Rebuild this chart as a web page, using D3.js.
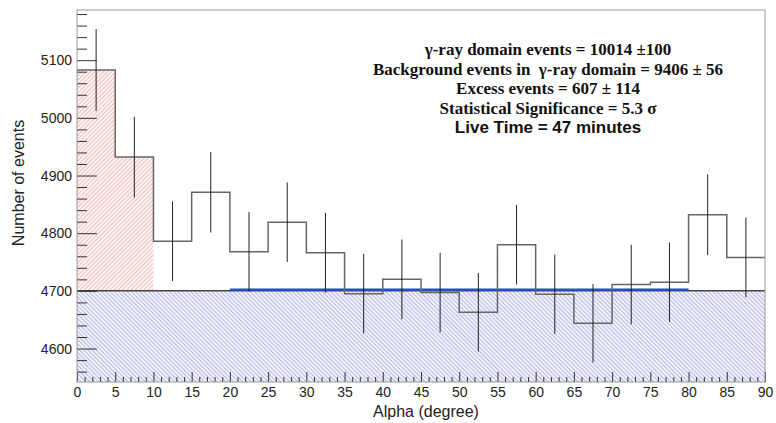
<!DOCTYPE html>
<html>
<head>
<meta charset="utf-8">
<script src="https://cdn.jsdelivr.net/npm/d3@7"></script>
<style>
  body { margin: 0; background: #fff; }
  svg { display: block; }
  .tick text { font-family: "Liberation Sans", Arial, sans-serif; font-size: 14px; fill: #222; }
</style>
</head>
<body>
<div id="chart"></div>
<script>
// alpha bins (degree), 5 deg wide
const binStarts = [0, 5, 10, 15, 20, 25, 30, 35, 40, 45, 50, 55, 60, 65, 70, 75, 80, 85];
const counts = [5083, 4932, 4786, 4871, 4768, 4819, 4766, 4695, 4720, 4697, 4663, 4780, 4694, 4644, 4711, 4715, 4832, 4758];
const errors = [71, 70, 69, 70, 69, 69, 69, 69, 69, 69, 68, 69, 69, 68, 69, 69, 70, 69];
const signalBins = [0, 1];           // bins in the gamma-ray domain
const background = 4700;
const fitRange = [20, 80];
const fitLevel = 4702;
const xTicks = [0, 5, 10, 15, 20, 25, 30, 35, 40, 45, 50, 55, 60, 65, 70, 75, 80, 85, 90];
const yTicks = [4600, 4700, 4800, 4900, 5000, 5100];
const infoLines = [
  "γ-ray domain events = 10014 ±100",
  "Background events in  γ-ray domain = 9406 ± 56",
  "Excess events = 607 ± 114",
  "Statistical Significance = 5.3 σ",
  "Live Time = 47 minutes"
];

const width = 776, height = 423;
const x = d3.scaleLinear().domain([0, 90]).range([77, 765]);
const y = d3.scaleLinear().domain([4542, 5187]).range([382, 10]);

const svg = d3.select('#chart')
  .append('svg')
  .attr('width', width)
  .attr('height', height);

const defs = svg.append('defs');
const hatch = (id, color, angle) => {
  const p = defs.append('pattern')
    .attr('id', id)
    .attr('patternUnits', 'userSpaceOnUse')
    .attr('width', 3)
    .attr('height', 10)
    .attr('patternTransform', 'rotate(' + angle + ')');
  p.append('line')
    .attr('x1', 0.75).attr('y1', 0)
    .attr('x2', 0.75).attr('y2', 10)
    .attr('stroke', color)
    .attr('stroke-width', 0.8);
};
hatch('hatch-red', '#e98f8f', 45);
hatch('hatch-blue', '#8585dc', -45);

// background hatch below 4700
svg.append('rect')
  .attr('x', x(0))
  .attr('y', y(background))
  .attr('width', x(90) - x(0))
  .attr('height', y.range()[0] - y(background))
  .attr('fill', 'url(#hatch-blue)');

// excess hatch in the signal bins
svg.selectAll('rect.excess')
  .data(signalBins)
  .enter().append('rect')
  .attr('class', 'excess')
  .attr('x', (i) => x(binStarts[i]))
  .attr('y', (i) => y(counts[i]))
  .attr('width', (i) => x(binStarts[i] + 5) - x(binStarts[i]))
  .attr('height', (i) => y(background) - y(counts[i]))
  .attr('fill', 'url(#hatch-red)');

// background level
svg.append('line')
  .attr('x1', x(0)).attr('x2', x(90))
  .attr('y1', y(background)).attr('y2', y(background))
  .attr('stroke', '#444')
  .attr('stroke-width', 1.5);

// fit line
svg.append('line')
  .attr('x1', x(fitRange[0])).attr('x2', x(fitRange[1]))
  .attr('y1', y(fitLevel)).attr('y2', y(fitLevel))
  .attr('stroke', '#1f4fc0')
  .attr('stroke-width', 2.5);

// histogram outline
const steps = binStarts.map((b, i) => [b, counts[i]]);
steps.push([90, counts[counts.length - 1]]);
svg.append('path')
  .datum(steps)
  .attr('fill', 'none')
  .attr('stroke', '#666')
  .attr('stroke-width', 1.5)
  .attr('d', d3.line()
    .x((d) => x(d[0]))
    .y((d) => y(d[1]))
    .curve(d3.curveStepAfter));

// error bars
svg.selectAll('line.err')
  .data(binStarts)
  .enter().append('line')
  .attr('class', 'err')
  .attr('x1', (b) => x(b + 2.5))
  .attr('x2', (b) => x(b + 2.5))
  .attr('y1', (b, i) => y(counts[i] - errors[i]))
  .attr('y2', (b, i) => y(counts[i] + errors[i]))
  .attr('stroke', '#222')
  .attr('stroke-width', 1);

// axes
const yMinor = d3.range(4560, 5181, 20).filter((v) => v % 100 !== 0);
svg.append('g')
  .attr('transform', 'translate(' + x(0) + ',0)')
  .call(d3.axisLeft(y).tickValues(yMinor).tickSize(-10).tickFormat(''))
  .call((g) => g.select('.domain').remove());
svg.append('g')
  .attr('transform', 'translate(' + x(0) + ',0)')
  .call(d3.axisLeft(y).tickValues(yTicks).tickSize(-20).tickPadding(5).tickFormat(d3.format('d')))
  .call((g) => g.select('.domain').remove());

const xMinor = d3.range(1, 90).filter((v) => v % 5 !== 0);
svg.append('g')
  .attr('transform', 'translate(0,' + y.range()[0] + ')')
  .call(d3.axisBottom(x).tickValues(xMinor).tickSize(-5).tickFormat(''))
  .call((g) => g.select('.domain').remove());
svg.append('g')
  .attr('transform', 'translate(0,' + y.range()[0] + ')')
  .call(d3.axisBottom(x).tickValues(xTicks).tickSize(-10).tickPadding(5).tickFormat(d3.format('d')))
  .call((g) => g.select('.domain').remove());

svg.selectAll('.tick line').attr('stroke', '#333');

// frame
svg.append('rect')
  .attr('x', x(0)).attr('y', y.range()[1])
  .attr('width', x(90) - x(0))
  .attr('height', y.range()[0] - y.range()[1])
  .attr('fill', 'none')
  .attr('stroke', '#999')
  .attr('stroke-width', 1);

// axis titles
svg.append('text')
  .attr('x', (x(0) + x(90)) / 2 + 5)
  .attr('y', 417)
  .attr('text-anchor', 'middle')
  .attr('font-family', '"Liberation Sans", Arial, sans-serif')
  .attr('font-size', 16)
  .attr('fill', '#222')
  .text('Alpha (degree)');

svg.append('text')
  .attr('transform', 'translate(24,183) rotate(-90)')
  .attr('text-anchor', 'middle')
  .attr('font-family', '"Liberation Sans", Arial, sans-serif')
  .attr('font-size', 16)
  .attr('fill', '#222')
  .text('Number of events');

// info box
const info = svg.append('text')
  .attr('text-anchor', 'middle')
  .attr('font-weight', 'bold')
  .attr('font-size', 17)
  .attr('fill', '#111')
  .style('white-space', 'pre');

infoLines.forEach((line, i) => {
  info.append('tspan')
    .attr('x', 548)
    .attr('y', 55 + i * 19.5)
    .attr('font-family', i === infoLines.length - 1
      ? '"Liberation Sans", Arial, sans-serif'
      : '"Liberation Serif", "Times New Roman", serif')
    .text(line);
});
</script>
</body>
</html>
